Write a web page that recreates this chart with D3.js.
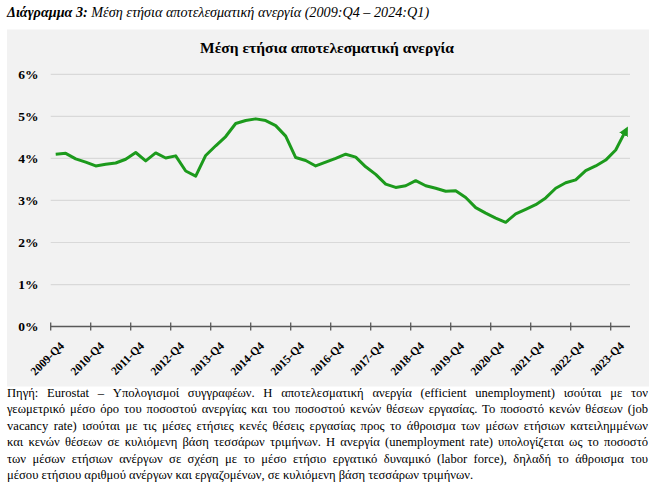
<!DOCTYPE html>
<html>
<head>
<meta charset="utf-8">
<script src="https://cdn.jsdelivr.net/npm/d3@7"></script>
<style>
    body { margin: 0; background: #fff; }
    #holder { position: relative; width: 655px; height: 484px; overflow: hidden; }
    .note { position: absolute; left: 7px; width: 641px; font-family: "Liberation Serif", serif;
        font-size: 12.6px; color: #000; white-space: nowrap; }
    .note.just { text-align: justify; text-align-last: justify; white-space: normal; }
</style>
</head>
<body>
<div id="holder"></div>
<script>
const quarters = [
    "2009-Q4",
    "2010-Q1", "2010-Q2", "2010-Q3", "2010-Q4",
    "2011-Q1", "2011-Q2", "2011-Q3", "2011-Q4",
    "2012-Q1", "2012-Q2", "2012-Q3", "2012-Q4",
    "2013-Q1", "2013-Q2", "2013-Q3", "2013-Q4",
    "2014-Q1", "2014-Q2", "2014-Q3", "2014-Q4",
    "2015-Q1", "2015-Q2", "2015-Q3", "2015-Q4",
    "2016-Q1", "2016-Q2", "2016-Q3", "2016-Q4",
    "2017-Q1", "2017-Q2", "2017-Q3", "2017-Q4",
    "2018-Q1", "2018-Q2", "2018-Q3", "2018-Q4",
    "2019-Q1", "2019-Q2", "2019-Q3", "2019-Q4",
    "2020-Q1", "2020-Q2", "2020-Q3", "2020-Q4",
    "2021-Q1", "2021-Q2", "2021-Q3", "2021-Q4",
    "2022-Q1", "2022-Q2", "2022-Q3", "2022-Q4",
    "2023-Q1", "2023-Q2", "2023-Q3", "2023-Q4",
    "2024-Q1"
];

// μέση ετήσια αποτελεσματική ανεργία, %
const unemployment = [
    4.10,
    4.12, 3.99, 3.91, 3.82,
    3.86, 3.89, 3.98, 4.14,
    3.94, 4.13, 4.01, 4.06,
    3.70, 3.58, 4.07, 4.30,
    4.52, 4.83, 4.90, 4.94,
    4.90, 4.78, 4.53, 4.02,
    3.95, 3.82, 3.91, 4.00,
    4.10, 4.03, 3.80, 3.62,
    3.39, 3.31, 3.35, 3.47,
    3.35, 3.29, 3.22, 3.23,
    3.07, 2.83, 2.70, 2.58,
    2.48, 2.68, 2.79, 2.90,
    3.06, 3.29, 3.42, 3.49,
    3.71, 3.82, 3.96, 4.20,
    4.66
];

const tickLabels = ["2009-Q4", "2010-Q4", "2011-Q4", "2012-Q4", "2013-Q4", "2014-Q4", "2015-Q4",
    "2016-Q4", "2017-Q4", "2018-Q4", "2019-Q4", "2020-Q4", "2021-Q4", "2022-Q4", "2023-Q4"];
const yTicks = [0, 1, 2, 3, 4, 5, 6];

const heading = {bold: "Διάγραμμα 3:", rest: " Μέση ετήσια αποτελεσματική ανεργία (2009:Q4 – 2024:Q1)"};
const chartTitle = "Μέση ετήσια αποτελεσματική ανεργία";
const noteLines = [
    "Πηγή: Eurostat – Υπολογισμοί συγγραφέων. Η αποτελεσματική ανεργία (efficient unemployment) ισούται με τον",
    "γεωμετρικό μέσο όρο του ποσοστού ανεργίας και του ποσοστού κενών θέσεων εργασίας. Το ποσοστό κενών θέσεων (job",
    "vacancy rate) ισούται με τις μέσες ετήσιες κενές θέσεις εργασίας προς το άθροισμα των μέσων ετήσιων κατειλημμένων",
    "και κενών θέσεων σε κυλιόμενη βάση τεσσάρων τριμήνων. Η ανεργία (unemployment rate) υπολογίζεται ως το ποσοστό",
    "των μέσων ετήσιων ανέργων σε σχέση με το μέσο ετήσιο εργατικό δυναμικό (labor force), δηλαδή το άθροισμα του",
    "μέσου ετήσιου αριθμού ανέργων και εργαζομένων, σε κυλιόμενη βάση τεσσάρων τριμήνων."
];

const W = 655, H = 484;
const plot = {left: 50.7, right: 630.7, top: 74.3, bottom: 326.6};
const serif = "'Liberation Serif', 'Times New Roman', serif";
const green = "#1c9a1c";

const holder = d3.select("#holder");
const svg = holder.append("svg")
    .attr("width", W)
    .attr("height", H)
    .style("position", "absolute")
    .style("left", 0).style("top", 0);

// heading above the chart
const head = svg.append("text")
    .attr("x", 7)
    .attr("y", 17)
    .attr("font-family", serif)
    .attr("font-size", 14.2)
    .attr("font-style", "italic");
head.append("tspan").attr("font-weight", "bold").text(heading.bold);
head.append("tspan").text(heading.rest);

// chart area
svg.append("rect")
    .attr("x", 7).attr("y", 29.5)
    .attr("width", 642).attr("height", 357)
    .attr("fill", "#f2f2f2");

svg.append("text")
    .attr("x", 327)
    .attr("y", 53)
    .attr("text-anchor", "middle")
    .attr("font-family", serif)
    .attr("font-size", 15.5)
    .attr("font-weight", "bold")
    .text(chartTitle);

const x = d3.scaleBand()
    .domain(quarters)
    .range([plot.left, plot.right]);

const y = d3.scaleLinear()
    .domain([0, 6])
    .range([plot.bottom, plot.top]);

// grid
svg.append("g")
    .selectAll("line")
    .data(yTicks.filter(d => d > 0))
    .enter().append("line")
    .attr("x1", plot.left)
    .attr("x2", plot.right - 0.7)
    .attr("y1", d => y(d))
    .attr("y2", d => y(d))
    .attr("stroke", "#d9d9d9")
    .attr("stroke-width", 1.2);

// y labels
svg.append("g")
    .selectAll("text")
    .data(yTicks)
    .enter().append("text")
    .attr("x", 38.5)
    .attr("y", d => y(d))
    .attr("dy", "0.34em")
    .attr("text-anchor", "end")
    .attr("font-family", serif)
    .attr("font-size", 13.5)
    .attr("font-weight", "bold")
    .text(d => d + "%");

// x axis
const axis = svg.append("g");
axis.append("line")
    .attr("x1", plot.left)
    .attr("x2", plot.right - 0.7)
    .attr("y1", y(0))
    .attr("y2", y(0))
    .attr("stroke", "#595959")
    .attr("stroke-width", 1.5);

axis.selectAll(".tick")
    .data(tickLabels)
    .enter().append("line")
    .attr("class", "tick")
    .attr("x1", d => x(d))
    .attr("x2", d => x(d))
    .attr("y1", y(0) - 4)
    .attr("y2", y(0) + 4)
    .attr("stroke", "#595959")
    .attr("stroke-width", 1.3);

axis.selectAll(".lbl")
    .data(tickLabels)
    .enter().append("text")
    .attr("class", "lbl")
    .attr("transform", d => "translate(" + (x(d) + x.bandwidth() / 2 + 9) + "," + (y(0) + 20) + ") rotate(-45)")
    .attr("text-anchor", "end")
    .attr("font-family", serif)
    .attr("font-size", 11.5)
    .attr("font-weight", "bold")
    .text(d => d);

// arrow at the end of the line
svg.append("defs").append("marker")
    .attr("id", "arrow")
    .attr("viewBox", "0 0 10 10")
    .attr("refX", 5)
    .attr("refY", 5)
    .attr("markerWidth", 3.2)
    .attr("markerHeight", 3.2)
    .attr("orient", "auto")
    .append("path")
    .attr("d", "M0,0 L10,5 L0,10 z")
    .attr("fill", green);

const line = d3.line()
    .x((d, i) => x(quarters[i]) + x.bandwidth() / 2)
    .y(d => y(d));

svg.append("path")
    .datum(unemployment)
    .attr("d", line)
    .attr("fill", "none")
    .attr("stroke", green)
    .attr("stroke-width", 3)
    .attr("stroke-linejoin", "round")
    .attr("marker-end", "url(#arrow)");

// footnote
holder.selectAll(".note")
    .data(noteLines)
    .enter().append("div")
    .attr("class", (d, i) => i < noteLines.length - 1 ? "note just" : "note")
    .style("top", (d, i) => (386 + i * 16.4) + "px")
    .text(d => d);
</script>
</body>
</html>
